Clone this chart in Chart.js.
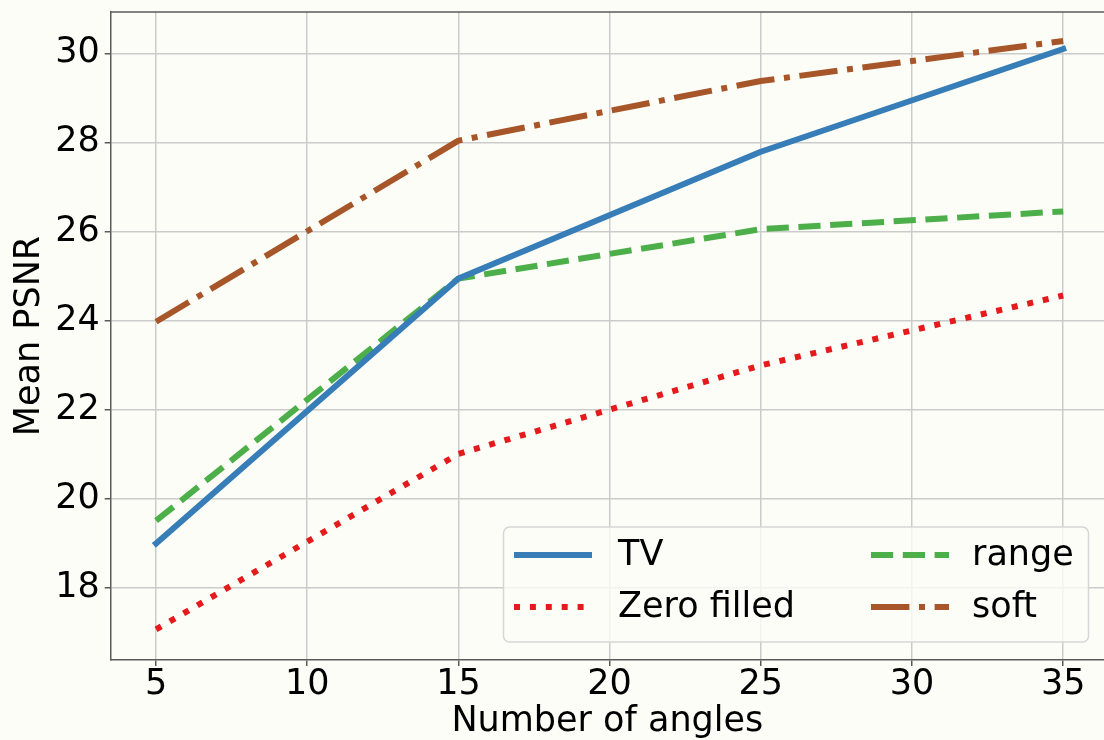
<!DOCTYPE html>
<html>
  <head>
    <title>Mean PSNR vs number of angles</title>
    <style>
      html,
      body {
        margin: 0;
        padding: 0;
        background: #fdfdf7;
        overflow: hidden;
      }
      #wrap {
        width: 1104px;
        height: 740px;
      }
    </style>
  </head>

  <body>
    <div id="wrap">
      <canvas id="canvas" width="1104" height="740"></canvas>
    </div>

    <script src="https://cdn.jsdelivr.net/npm/chart.js@4/dist/chart.umd.min.js"></script>
    <script>
      // data
      const angles = [5, 15, 25, 35];
      const tvPsnr = [18.99, 24.94, 27.79, 30.1];
      const zeroPsnr = [17.06, 21.0, 22.99, 24.56];
      const rangePsnr = [19.5, 24.94, 26.05, 26.45];
      const softPsnr = [23.97, 28.04, 29.38, 30.28];

      const xTicks = [5, 10, 15, 20, 25, 30, 35];
      const yTicks = [18, 20, 22, 24, 26, 28, 30];

      const FONT = "DejaVu Sans";
      const BG = "#fdfdf7";

      function pts(ys) {
        return angles.map((a, i) => ({ x: a, y: ys[i] }));
      }

      // page background + top spine
      const frame = {
        id: "frame",
        beforeDraw(chart) {
          const c = chart.ctx;
          c.save();
          c.fillStyle = BG;
          c.fillRect(0, 0, chart.width, chart.height);
          c.restore();
        },
        afterDatasetsDraw(chart) {
          const c = chart.ctx;
          const a = chart.chartArea;
          c.save();
          c.strokeStyle = "#5a5a5a";
          c.lineWidth = 1.5;
          c.beginPath();
          c.moveTo(a.left, a.top);
          c.lineTo(a.right, a.top);
          c.stroke();
          c.restore();
        },
      };

      // matplotlib-like legend, 2 columns, lower right
      const mplLegend = {
        id: "mplLegend",
        afterDatasetsDraw(chart) {
          const c = chart.ctx;
          c.save();
          const bx = 503.5, by = 527, bw = 585, bh = 115;
          c.fillStyle = "rgba(253,253,247,0.8)";
          c.strokeStyle = "#d6d6d6";
          c.lineWidth = 1.5;
          c.beginPath();
          c.roundRect(bx, by, bw, bh, 6);
          c.fill();
          c.stroke();

          // fill down then across, like matplotlib ncol=2
          const slots = [
            { hx: 514, tx: 618, y: 555 },
            { hx: 514, tx: 618, y: 607 },
            { hx: 871, tx: 972, y: 555 },
            { hx: 871, tx: 972, y: 607 },
          ];
          chart.data.datasets.forEach((ds, i) => {
            const s = slots[i];
            c.strokeStyle = ds.borderColor;
            c.lineWidth = ds.borderWidth;
            c.lineCap = ds.borderCapStyle || "butt";
            c.setLineDash(ds.borderDash || []);
            c.beginPath();
            const hl = ds.borderCapStyle === "square" ? 72 : 78;
            const off = ds.borderCapStyle === "square" ? 3 : 0;
            c.moveTo(s.hx + off, s.y);
            c.lineTo(s.hx + off + hl, s.y);
            c.stroke();
            c.setLineDash([]);
            c.fillStyle = "#000";
            c.font = "35px '" + FONT + "'";
            c.textBaseline = "middle";
            c.textAlign = "left";
            c.fillText(ds.label, s.tx, s.y + 1);
          });
          c.restore();
        },
      };

      const config = {
        type: "line",
        data: {
          datasets: [
            {
              label: "TV",
              data: pts(tvPsnr),
              borderColor: "#377eb8",
              borderWidth: 6,
              borderCapStyle: "square",
              borderJoinStyle: "round",
            },
            {
              label: "Zero filled",
              data: pts(zeroPsnr),
              borderColor: "#e41a1c",
              borderWidth: 6,
              borderDash: [6, 9.9],
              borderCapStyle: "butt",
              borderJoinStyle: "round",
            },
            {
              label: "range",
              data: pts(rangePsnr),
              borderColor: "#4daf4a",
              borderWidth: 6,
              borderDash: [22.2, 9.6],
              borderCapStyle: "butt",
              borderJoinStyle: "round",
            },
            {
              label: "soft",
              data: pts(softPsnr),
              borderColor: "#a65628",
              borderWidth: 6,
              borderDash: [38.4, 9.6, 6, 9.6],
              borderCapStyle: "butt",
              borderJoinStyle: "round",
            },
          ],
        },
        options: {
          responsive: false,
          animation: false,
          events: [],
          layout: { padding: { top: 12, left: 0, right: 0, bottom: 0 } },
          elements: { point: { radius: 0 }, line: { tension: 0 } },
          plugins: {
            legend: { display: false },
            tooltip: { enabled: false },
          },
          scales: {
            x: {
              type: "linear",
              min: 3.5,
              max: 36.35,
              afterBuildTicks(scale) {
                scale.ticks = xTicks.map((v) => ({ value: v }));
              },
              afterFit(scale) {
                scale.height = 80;
                scale.paddingLeft = 0;
                scale.paddingRight = 0;
              },
              grid: {
                color: "#cbcbcb",
                lineWidth: 1.5,
                tickColor: "#5a5a5a",
                tickLength: 6,
              },
              border: { display: true, color: "#5a5a5a", width: 1.5 },
              ticks: {
                color: "#000",
                padding: 1,
                maxRotation: 0,
                font: { family: FONT, size: 35, lineHeight: 1 },
                callback: (v) => String(v),
              },
              title: {
                display: true,
                text: "Number of angles",
                color: "#000",
                padding: { top: 0, bottom: 0.5 },
                font: { family: FONT, size: 35, lineHeight: 1 },
              },
            },
            y: {
              type: "linear",
              min: 16.37,
              max: 30.93,
              afterBuildTicks(scale) {
                scale.ticks = yTicks.map((v) => ({ value: v }));
              },
              afterFit(scale) {
                scale.width = 110.7;
                scale.paddingTop = 0;
                scale.paddingBottom = 0;
              },
              grid: {
                color: "#cbcbcb",
                lineWidth: 1.5,
                tickColor: "#5a5a5a",
                tickLength: 6,
              },
              border: { display: true, color: "#5a5a5a", width: 1.5 },
              ticks: {
                color: "#000",
                padding: 5,
                font: { family: FONT, size: 35, lineHeight: 1 },
                callback: (v) => String(v),
              },
              title: {
                display: true,
                text: "Mean PSNR",
                color: "#000",
                padding: { top: 12.5, bottom: 0 },
                font: { family: FONT, size: 35, lineHeight: 1 },
              },
            },
          },
        },
        plugins: [frame, mplLegend],
      };

      const ctx = document.getElementById("canvas").getContext("2d");
      const chart = new Chart(ctx, config);
    </script>
  </body>
</html>
